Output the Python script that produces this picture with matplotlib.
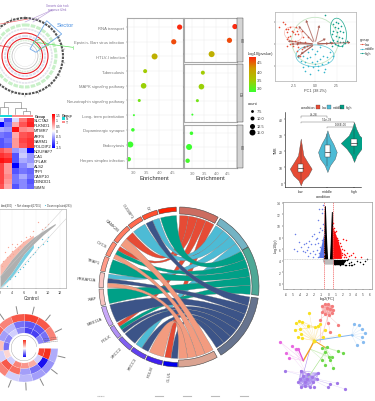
from itertools import combinations

import matplotlib
matplotlib.use("Agg")
import numpy as np
from matplotlib import pyplot as plt
from matplotlib.colors import LinearSegmentedColormap
from matplotlib.patches import Circle, Ellipse, PathPatch, Polygon, Rectangle, Wedge
from matplotlib.path import Path

W, H = 375, 402

# dot plot
pathways = ["RNA transport", "Epstein- Barr virus infection", "HTLV-I infection", "Tuberculosis",
            "MAPK signaling pathway", "Neurotrophin signaling pathway", "Long- term potentiation",
            "Dopaminergic synapse", "Endocytosis", "Herpes simplex infection"]
enrichment = [4.79, 4.56, 3.81, 3.44, 3.38, 3.21, 3.0, 2.96, 2.86, 2.8]
counts = [13, 13, 15, 10, 14, 8, 5, 9, 15, 11]
logp = [4.7, 4.55, 3.9, 3.55, 3.5, 3.3, 3.0, 3.0, 3.0, 3.05]
facet_rows = [[0, 1, 2], [3, 4, 5, 6], [7, 8, 9]]
facet_names = ["HD", "OS", "HD"]

# heatmap
genes_hm = ["SLC7A2", "PLKND1", "MTMR7", "ARFS", "SARM1", "POLDIP2", "NDUFAF7", "ICA1", "CFLAR", "ALS2",
            "TFPI", "CASP10", "DBNDD1", "WIMN"]
hm_values = [[-0.3, -1.0, -0.2, 0.8, 1.2], [-1.5, -0.8, 0.5, 1.0, 1.3], [-0.5, -0.6, 1.4, 0.7, 0.6],
             [-0.8, -0.9, 0.5, 1.0, 1.1], [-1.0, -0.8, 0.6, 1.1, 1.2], [-1.0, -0.9, 0.6, 1.0, 1.2],
             [1.0, 0.8, -0.6, -0.4, -1.5], [1.2, 1.1, -1.0, -0.3, -0.6], [1.4, 1.3, -1.0, -0.5, -0.6],
             [1.1, 0.6, -1.5, -0.7, -0.4], [1.1, 0.6, -1.0, -0.8, -0.9], [1.1, 0.7, -0.8, -0.5, -0.8],
             [1.1, 0.6, -0.8, -0.7, -1.0], [1.0, 0.5, -1.0, -0.7, -0.9]]
hm_ticks = [1.5, 1, 0.5, 0, -0.5, -1, -1.5]

# pca
low_x = [-4.15, -3.65, -3.46, -3.38, -3.27, -3.08, -2.88, -2.69, -3.08, -3.27, -2.88, -2.5, -2.31, -2.12, -1.92, -2.69,
         -2.31, -2.5, -2.12, -1.73, -1.92, -1.54, -2.88, -3.27, -1.15, -1.35, -1.54, -2.12, -1.73, -0.96, -2.23, -0.77]
low_y = [1.92, 2.58, 2.31, 1.73, 1.35, 1.73, 1.92, 1.54, 0.77, 0.58, 0.96, 1.35, 1.15, 1.54, 1.15, 0.38,
         0.38, -0.19, 0, 0.19, -0.38, -0.58, 0, -0.19, 0.19, 0.77, 1.54, -0.77, -1.35, -0.19, 2.0, 0.77]
mid_x = [-1.92, -1.62, -1.35, -1.15, -0.96, -0.77, -0.58, -0.38, -0.19, 0, 0.19, 0.38, 0.58, 0.77, 0.96, 1.15,
         1.35, 1.54, -0.58, 1.08, 0.19, 0.58, -0.38, -1.15, 2.12, 1.73, 0.38, -0.85, -1.35, 0]
mid_y = [-1.54, -1.92, -1.35, -2.12, -1.65, -2.5, -1.54, -2.12, -2.69, -1.15, -1.92, -2.5, -1.73, -2.31, -1.35, -2.88,
         -1.54, -2.12, -3.46, -3.19, -0.77, -0.38, -0.58, -3.08, -1.35, -0.96, -2.96, -0.96, -2.69, -2.31]
high_x = [1.15, 2.12, 2.38, 2.69, 3.0, 2.31, 2.62, 2.12, 2.5, 2.88, 3.27, 1.92, 2.38, 2.77, 3.15, 2.12, 2.5, 2.88,
          3.27, 3.65, 2.31, 2.69, 3.08, 3.46, 1.73, 1.92]
high_y = [3.35, 2.31, 2.5, 2.42, 2.12, 1.92, 1.81, 1.54, 1.35, 1.54, 1.35, 1.15, 0.88, 0.77, 0.65, 0.5, 0.38, 0.27,
          0.19, 0.38, 0, -0.12, -0.19, 0.08, 0.19, -0.19]
load_x = [-1.15, 0.58, -2.12, -3.46, -3.08, -2.5, 1.54, 1.92, 4.42, 2.5, -2.31, -1.92, -1.73]
load_y = [3.08, 2.5, 2.31, 0.38, 0, 0.12, 0.77, 0.08, 0.19, 0.12, -1.73, -1.35, -0.58]

# violins
conditions = ["low", "middle", "high"]
violin_colors = ["#E64B35", "#4DBBD5", "#00A087"]
low_levels = [27.9, 22.6, 17.4, 13.2, 9, 4.8, 1.7, -1.5]
low_width = [0, 0.05, 0.1, 0.25, 0.41, 0.28, 0.08, 0]
mid_levels = [33.1, 28.9, 24.7, 19.5, 15.3, 11.1, 6.9]
mid_width = [0, 0.08, 0.22, 0.35, 0.28, 0.1, 0]
high_levels = [38.3, 34.1, 29.9, 25.1, 21.6, 17.4, 13.2]
high_width = [0, 0.08, 0.2, 0.5, 0.28, 0.1, 0]
box_q1 = [6.9, 16.5, 23.0]
box_med = [9.6, 19.5, 25.1]
box_q3 = [12.1, 23.7, 27.7]
whisk_lo = [2, 11, 18]
whisk_hi = [23.7, 31, 34]
brackets = [(0, 1, "7e-28", 42.0), (0, 2, "5.1e-38", 38.4), (1, 2, "1.66E-06", 35.3)]

# scatter control / treat
band_x = [2, 4, 6, 7.56, 9.2, 11.2]
grey_up = [3.28, 5.83, 7.87, 9.14, 10.16, 11.29]
grey_lo = [1.5, 3.79, 6.59, 8.12, 9.55, 11.08]
salmon_x = [2, 4, 6, 7.56]
salmon_up = [5.0, 7.0, 8.6, 9.5]
cyan_lo = [1.4, 3.1, 5.7, 7.6]
up_x = [4.5, 4.78, 3.94, 3.11, 2.56, 3.67, 5.33, 3.39, 2.83, 4.22, 5.06, 5.89, 2.28, 6.33, 7, 8.39, 8.94, 7.56, 9.5,
        10.06, 4.5, 5.44, 3.94]
up_y = [7.61, 8.12, 7.1, 6.08, 5.57, 6.34, 7.87, 7.61, 6.85, 6.59, 7.36, 8.38, 4.81, 9.14, 9.4, 11.44, 10.42, 10.16,
        10.67, 11.18, 5.83, 8.63, 8.12]
down_x = [3.11, 3.67, 4.5, 5.33, 6.17, 7, 6.72, 7.83, 8.39, 9.22, 9.78, 10.06, 8.94, 7.56, 5.06, 5.89]
down_y = [1.74, 2.77, 3.28, 4.3, 5.06, 6.08, 5.57, 6.85, 7.61, 8.12, 8.63, 9.14, 8.89, 6.59, 3.79, 4.55]

# circular heatmap, 14 sectors
ring_outer = [-0.35, -0.45, -0.4, -0.3, -0.2, 0.6, 0.7, 0.6, 0.7, 0.6, 0.8, 0.9, 0.8, 0.6]
ring_mid = [1.0, -1.0, -0.6, -0.4, 0.7, 0.8, -0.2, 0.3, -0.4, -0.3, -0.6, -0.7, -0.7, -0.6]
ring_inner = [0.9, -0.2, 0.4, 0.5, 0.6, -0.2, 0.2, -0.6, -0.5, -0.2, -0.5, -0.8, -0.8, -0.5]

# chord
chord_genes = ["GLUL", "POLM", "XRCC3", "XRCC2", "POLK", "MRE11A", "XIAP", "PRKAR2A", "TRAF1", "CYCS", "CAMK2B",
               "CUGBP1", "LY", ""]
gene_spans = [10.5, 12, 11.5, 11, 9.5, 15, 12, 11, 11, 11, 14, 11, 11.5, 13]
gene_colors = ["#0000F0", "#4020F0", "#6040F0", "#8060F0", "#B090F4", "#C8A8F8", "#F8C4C0", "#F8C4C0", "#FF9A88",
               "#FF8A70", "#FF7A60", "#FF6A50", "#FF5030", "#FF2000"]
term_colors = ["#E64B35", "#4DBBD5", "#00A087", "#3C5488", "#F39B7F"]
term_rings = ["#CC6D61", "#74B3C4", "#4DA896", "#66738E", "#DBA492"]
gene_links = [[3, 0], [4], [3, 1], [3], [3, 2, 0], [3], [2], [4, 3, 1], [2], [4, 2, 0], [4, 0], [1], [3, 1], [2]]

# volcano
blue_x = [-5.0, -4.8, -4.6, -4.2, -3.9, -3.7, -3.5, -3.4, -3.2, -3.1, -2.9, -2.8, -2.7, -2.5, -2.4, -2.3, -2.1, -2.0,
          -1.9, -1.8, -1.7, -1.6, -1.5, -1.4, -1.3, -1.2, -1.1, -1.0, -0.9, -0.8, -0.7, -1.3, -1.0, -0.9, -0.8, -1.5,
          -1.2, -1.0, -0.8, -0.7, -3.0, -2.2, -1.5]
blue_y = [6.0, 8.7, 5.6, 7.2, 6.4, 5.7, 6.9, 5.5, 7.0, 5.8, 6.3, 7.4, 5.4, 6.8, 8.3, 5.6, 8.6, 6.9, 5.2, 7.7, 8.0,
          5.9, 7.0, 5.3, 8.9, 6.3, 5.5, 7.6, 4.9, 6.4, 5.2, 13.0, 12.2, 12.9, 13.6, 11.0, 9.7, 9.3, 10.4, 8.6, 4.8, 4.7, 4.6]
red_x = [0.7, 0.8, 0.9, 1.0, 1.1, 1.2, 1.3, 1.4, 1.5, 1.6, 1.7, 1.8, 1.9, 2.0, 2.1, 2.2, 2.3, 2.4, 2.5, 2.7, 2.9, 3.2,
         3.5, 3.8, 1.0, 1.2, 1.4, 1.6, 1.8, 2.0, 2.2, 2.5, 4.7]
red_y = [10.5, 9.6, 9.0, 8.4, 9.2, 7.9, 7.2, 7.6, 6.5, 7.1, 5.9, 6.6, 5.4, 6.1, 7.7, 5.2, 5.8, 4.9, 7.6, 5.3, 4.8, 5.0,
         5.3, 4.7, 6.0, 5.2, 5.0, 4.7, 4.6, 5.0, 4.6, 4.7, 4.6]
red_dense_y = [4.3, 10.0, 7.8, 5.5, 4.3]
red_dense_x = [0.6, 0.6, 1.3, 1.9, 1.9]
black_x = [1.0, 1.3, 1.6, 1.9, 2.1, 2.3, 2.5, 2.7, 2.9, 3.0, 3.2, 3.4, 3.6, 4.1, 4.5, 5.0, 5.2, 5.6, 2.0, 2.4, 2.8, 3.3]
black_y = [3.4, 3.7, 3.3, 3.8, 3.4, 3.9, 3.3, 4.1, 3.6, 3.2, 3.8, 3.3, 3.5, 3.9, 3.7, 3.4, 4.0, 4.3, 4.2, 3.2, 4.3, 3.2]
tower_left_y = [3.8, 7, 10, 13.5]
tower_left_lo = [-0.75, -0.72, -0.66, -0.58]
tower_left_hi = [-0.1, -0.25, -0.35, -0.45]
tower_right_y = [3.6, 7, 10, 12.5]
tower_right_lo = [0.1, 0.25, 0.33, 0.42]
tower_right_hi = [0.62, 0.6, 0.58, 0.55]

# network, node positions per module
net_red_x = [140, 150, 160, 170, 175, 172, 162, 150, 142, 155, 165]
net_red_y = [22, 15, 15, 20, 32, 42, 48, 45, 38, 28, 30]
net_red2_x = [135, 158, 190, 165]
net_red2_y = [62, 72, 77, 98]
net_yellow_x = [103, 72, 82, 100, 62, 60, 75, 120, 130, 150, 135, 68, 78, 80, 143, 192]
net_yellow_y = [43, 65, 68, 80, 72, 92, 90, 85, 80, 92, 75, 115, 105, 118, 115, 108]
net_blue_x = [237, 252, 260, 270, 262, 265, 245]
net_blue_y = [75, 77, 90, 102, 115, 128, 137]
net_magenta_x = [15, 52, 62, 32, 42, 70]
net_magenta_y = [128, 140, 150, 163, 177, 150]
net_green_x = [142, 155, 188, 205, 150, 162, 172, 142, 165, 150, 175]
net_green_y = [148, 145, 155, 163, 160, 175, 175, 182, 182, 197, 207]
net_purple_x = [78, 130, 85, 100, 75, 70, 90, 105, 115, 125, 95, 110, 78, 90]
net_purple_y = [215, 222, 230, 225, 240, 250, 260, 265, 250, 240, 240, 235, 265, 250]
net_purple2_x = [30, 185, 165, 158, 118, 210]
net_purple2_y = [215, 252, 255, 265, 265, 270]
net_hub_x = [118, 105, 85, 230, 150]
net_hub_y = [125, 150, 185, 108, 145]

plt.rcParams["font.family"] = ["Liberation Sans", "DejaVu Sans"]
plt.rcParams["axes.linewidth"] = 0.4
plt.rcParams["xtick.major.width"] = 0.3
plt.rcParams["ytick.major.width"] = 0.3
plt.rcParams["xtick.major.size"] = 1
plt.rcParams["ytick.major.size"] = 1
plt.rcParams["xtick.major.pad"] = 0.8
plt.rcParams["ytick.major.pad"] = 0.8

fig = plt.figure(figsize=(W / 100, H / 100), dpi=100)


def panel(x0, y0, x1, y1):
    return fig.add_axes([x0 / W, 1 - y1 / H, (x1 - x0) / W, (y1 - y0) / H])


# overlay in pixel units, y points down
ov = fig.add_axes([0, 0, 1, 1], zorder=5)
ov.set_xlim(0, W)
ov.set_ylim(H, 0)
ov.axis("off")
ov.patch.set_alpha(0)


def polar(cx, cy, r, clock):
    a = np.radians(clock)
    return cx + r * np.sin(a), cy - r * np.cos(a)


# --- dot plot ---
dot_cmap = LinearSegmentedColormap.from_list("gr", ["#3CFF2E", "#A8C800", "#D09A00", "#FF2010"])


def dot_size(c):
    d = np.interp(c, [5, 7.5, 10, 12.5, 15], [2.0, 2.8, 4.0, 5.0, 6.0])
    return (d * 0.72) ** 2


def dot_color(v):
    return dot_cmap((v - 3.0) / 1.75)


def style_dot(ax, xlim):
    ax.set_xlim(*xlim)
    ax.set_xticks([3.0, 3.5, 4.0, 4.5])
    ax.set_xticklabels(["3.0", "3.5", "4.0", "4.5"], fontsize=2.8, color="#555555")
    ax.grid(color="#EBEBEB", lw=0.3)
    ax.set_axisbelow(True)
    for s in ax.spines.values():
        s.set_color("#AAAAAA")
        s.set_linewidth(0.8)
    ax.tick_params(colors="#777777")


ax = panel(127, 19.3, 182.7, 169)
ys = np.arange(len(pathways))
ax.scatter(enrichment, ys, s=[dot_size(c) for c in counts], c=[dot_color(v) for v in logp], lw=0)
ax.set_ylim(9.6, -0.6)
ax.set_yticks(ys)
ax.set_yticklabels(pathways, fontsize=3.0, color="#333333")
style_dot(ax, (2.73, 4.91))
ax.set_xlabel("Enrichment", fontsize=4.2, labelpad=0.5, color="#333333")

facet_boxes = [(19.3, 62.7), (65.3, 123.3), (126, 169.3)]
for rows, box, name in zip(facet_rows, facet_boxes, facet_names):
    fa = panel(184.3, box[0], 237.3, box[1])
    fa.scatter([enrichment[i] for i in rows], range(len(rows)), s=[dot_size(counts[i]) for i in rows],
               c=[dot_color(logp[i]) for i in rows], lw=0)
    fa.set_ylim(len(rows) - 0.45, -0.6)
    fa.set_yticks(range(len(rows)))
    fa.set_yticklabels([])
    style_dot(fa, (2.66, 4.89))
    if box is facet_boxes[-1]:
        fa.set_xlabel("Enrichment", fontsize=4.2, labelpad=0.5, color="#333333")
    else:
        fa.set_xticklabels([])
        fa.tick_params(bottom=False)
    ov.add_patch(Rectangle((237.3, box[0]), 6, box[1] - box[0], fc="#D4D4D4", ec="#333333", lw=0.3))
    ov.text(240.3, sum(box) / 2, name, rotation=-90, ha="center", va="center", fontsize=2.6, color="#333333")

ov.text(248, 54, "-log10(pvalue)", fontsize=2.9, va="center", color="#333333")
cb = panel(248.7, 57.7, 255, 93)
cb.imshow(np.linspace(1, 0, 64)[:, None], aspect="auto", cmap=dot_cmap)
cb.axis("off")
for lab, yy in zip(["4.5", "4.0", "3.5", "3.0"], [63, 72.5, 81, 89]):
    ov.text(257, yy, lab, fontsize=2.8, va="center", color="#333333")
ov.text(248, 104, "count", fontsize=2.9, va="center", color="#333333")
for c, lab, yy in zip([7.5, 10, 12.5, 15], ["7.5", "10.0", "12.5", "15.0"], [111.7, 119, 126.5, 133.3]):
    ov.scatter([252], [yy], s=dot_size(c), c="black", lw=0)
    ov.text(257, yy, lab, fontsize=2.8, va="center", color="#333333")

# --- circos, top left ---
cx, cy = 25, 57
for r, col, lw in [(38, "#555555", 1.5), (13, "#BBBBBB", 0.5), (10.5, "#DDDDDD", 0.3)]:
    ov.add_patch(Circle((cx, cy), r, fc="none", ec=col, lw=lw, ls=(0, (1.2, 0.5)) if r == 38 else "-"))
for r, col, lw in [(31, "#C8F0C8", 2.2), (27, "#E4E4EC", 1.2), (20, "#DDE0F0", 1.5), (15.5, "#DCEFDC", 1.0)]:
    ov.add_patch(Circle((cx, cy), r, fc="none", ec=col, lw=lw, ls=(0, (1.5, 0.4))))
for r in [23, 17.5]:
    ov.add_patch(Circle((cx, cy), r, fc="none", ec="#E8232A", lw=0.8))
for a in range(0, 360, 20):
    x0, y0 = polar(cx, cy, 38.5, a)
    x1, y1 = polar(cx, cy, 40.5, a)
    ov.plot([x0, x1], [y0, y1], color="#777777", lw=0.3)
ov.add_patch(Polygon([(46.7, 21.7), (61.7, 35), (36, 53.3), (30, 50)], fc="none", ec="#6FA8E8", lw=0.6))
ov.text(57, 25.5, "Sector", fontsize=4.2, color="#4A90E2", va="center")
ov.text(57, 8, "Genomic data track\nsequence & link", fontsize=1.9, color="#8E6BBE", ha="center", va="center")
ov.plot([52, 25], [11, 23], color="#B79AD8", lw=0.4)
ov.plot([52, 33], [11, 23], color="#B79AD8", lw=0.4)
ov.plot([36.7, 72.7], [43.5, 48.3], color="#5FE05F", lw=0.5)
ov.plot([72.7, 72.7], [46.5, 50], color="#5FE05F", lw=0.4)
ov.add_patch(Polygon([(33, 43), (40, 40), (49, 46), (40, 50)], fc="none", ec="#6FC96F", lw=0.5))
ov.plot([0, 28], [25, 20], color="#F07070", lw=0.5)
ov.plot([0, 10], [46.7, 48.3], color="#E8232A", lw=0.5)

# --- pca, top right ---
pc = panel(275, 13.3, 356, 81.7)
pc.set_xlim(-4.61, 4.73)
pc.set_ylim(-4.23, 3.66)
pc.grid(color="#EEEEEE", lw=0.3)
pc.set_axisbelow(True)
pc.add_patch(Ellipse((0, 0.38), 5.4, 5.4, fc="none", ec="#C4E4C4", lw=0.6))
pc.add_patch(Ellipse((-2.5, 1.15), 2.1, 1.6, angle=-20, fc="none", ec="#F08070", lw=0.4, ls=(0, (1, 0.6))))
pc.add_patch(Ellipse((0, -1.35), 4.4, 2.5, fc="none", ec="#5CC5D5", lw=0.5))
pc.add_patch(Ellipse((2.7, 1.35), 1.8, 3.3, angle=10, fc="none", ec="#1EA88E", lw=0.5))
for lx, ly in zip(load_x, load_y):
    pc.annotate("", xy=(lx, ly), xytext=(0, 0), arrowprops=dict(arrowstyle="-|>,head_width=0.06,head_length=0.1",
                                                                color="#A65A50", lw=0.7, alpha=0.75))
pc.scatter(low_x, low_y, s=1.4, c="#E8503A", lw=0)
pc.scatter(mid_x, mid_y, s=1.4, c="#35B5CC", lw=0)
pc.scatter(high_x, high_y, s=1.4, c="#12A08C", lw=0)
pc.set_xticks([-2.5, 0, 2.5])
pc.set_xticklabels(["-2.5", "0.0", "2.5"], fontsize=2.4, color="#555555")
pc.set_yticks([-2.5, 0, 2.5])
pc.set_yticklabels([])
for s in pc.spines.values():
    s.set_color("#BBBBBB")
    s.set_linewidth(0.6)
pc.set_xlabel("PC1 (38.2%)", fontsize=2.8, labelpad=0.6, color="#444444")
ov.text(360, 40, "group", fontsize=2.8, va="center", color="#333333")
for lab, yy, col in zip(conditions, [45, 49.5, 54], ["#E8503A", "#35B5CC", "#12A08C"]):
    ov.plot([360, 364], [yy, yy], color=col, lw=0.4)
    ov.scatter([362], [yy], s=0.8, c=col, lw=0)
    ov.text(365, yy, lab, fontsize=2.4, va="center", color="#333333")

# --- violins ---
vi = panel(285, 113, 361, 188)
vi.set_xlim(-0.59, 2.26)
vi.set_ylim(-2.5, 44.6)
for i, (lev, wid) in enumerate([(low_levels, low_width), (mid_levels, mid_width), (high_levels, high_width)]):
    vi.fill_betweenx(lev, i - np.array(wid), i + np.array(wid), fc=violin_colors[i], ec="#444444", lw=0.25)
    vi.plot([i, i], [whisk_lo[i], whisk_hi[i]], color="#333333", lw=0.3)
    vi.add_patch(Rectangle((i - 0.1, box_q1[i]), 0.2, box_q3[i] - box_q1[i], fc="white", ec="#333333", lw=0.3, zorder=3))
    vi.plot([i - 0.1, i + 0.1], [box_med[i]] * 2, color="#333333", lw=0.5, zorder=4)
for a, b, lab, yy in brackets:
    vi.plot([a, a, b, b], [yy - 1, yy, yy, yy - 1], color="#666666", lw=0.3)
    vi.text((a + b) / 2, yy + 0.3, lab, ha="center", va="bottom", fontsize=2.2, color="#333333")
vi.set_xticks([0, 1, 2])
vi.set_xticklabels(conditions, fontsize=2.6, color="#333333")
vi.set_yticks([0, 10, 20, 30, 40])
vi.set_yticklabels(["0", "10", "20", "30", "40"], fontsize=2.4, color="#333333")
vi.spines[["top", "right"]].set_visible(False)
vi.set_ylabel("TMB", fontsize=2.6, labelpad=0.5, color="#333333")
vi.set_xlabel("condition", fontsize=2.8, labelpad=0.2, color="#333333")
ov.text(308, 107.7, "condition", fontsize=2.6, ha="center", va="center", color="#333333")
for sx, tx, lab, col in zip([317.7, 329, 342.3], [321.5, 332.5, 346], conditions, violin_colors):
    ov.add_patch(Rectangle((sx - 2, 105.5), 4, 4.4, fc=col, ec="#444444", lw=0.2))
    ov.text(tx, 107.7, lab, fontsize=2.4, va="center", color="#333333")

# --- heatmap ---
hm_cmap = LinearSegmentedColormap.from_list("bwr2", ["#0000FF", "#FFFFFF", "#FF0000"])
hm = panel(-3.3, 118.7, 33.3, 190)
hm.imshow(hm_values, aspect="auto", cmap=hm_cmap, vmin=-1.5, vmax=1.5, interpolation="nearest")
hm.axis("off")
col_edges = [-3.3, 4, 11.7, 19, 26.3, 33.3]
for i, c in enumerate(["#18D8D8"] * 2 + ["#FA8C8C"] * 3):
    ov.add_patch(Rectangle((col_edges[i], 115.7), col_edges[i + 1] - col_edges[i], 2.5, fc=c, lw=0))
ov.text(34.5, 116.9, "Group", fontsize=2.7, va="center", fontweight="bold", color="#333333")
for i, g in enumerate(genes_hm):
    ov.text(34, 118.7 + 5.1 * (i + 0.5), g, fontsize=3.0, va="center", color="#222222")
cols = [0.35, 7.8, 15.3, 22.6, 29.8]
den = dict(color="#777777", lw=0.4)
ov.plot([cols[3], cols[3], cols[4], cols[4]], [115, 111.5, 111.5, 115], **den)
ov.plot([cols[2], cols[2], 26.2, 26.2], [115, 109, 109, 111.5], **den)
ov.plot([cols[0], cols[0], cols[1], cols[1]], [115, 107.5, 107.5, 115], **den)
ov.plot([4.1, 4.1, 20.7, 20.7], [107.5, 103, 103, 109], **den)
cb = panel(52, 115, 54.5, 149)
cb.imshow(np.linspace(1, 0, 64)[:, None], aspect="auto", cmap=hm_cmap)
cb.axis("off")
for i, t in enumerate(hm_ticks):
    ov.text(55.5, 116 + i * 5.35, f"{t:g}", fontsize=2.4, va="center", color="#333333")
ov.text(62, 115.5, "Group", fontsize=2.5, va="center", fontweight="bold", color="#333333")
for c, lab, yy in [("#18D8D8", "N", 118), ("#FA8C8C", "T", 121.5)]:
    ov.add_patch(Rectangle((61.7, yy), 3.3, 2.6, fc=c, lw=0))
    ov.text(66, yy + 1.3, lab, fontsize=2.3, va="center", color="#333333")

# --- control/treat scatter ---
ma = panel(-2, 210, 66, 289)
ma.set_xlim(2 - 2 / 6, 13)
ma.set_ylim(1.39, 13.5)
ma.grid(color="#EEEEEE", lw=0.3)
ma.set_axisbelow(True)
ma.fill_between(salmon_x, grey_up[:4], salmon_up, color="#F8A898", lw=0, alpha=0.8)
ma.fill_between(salmon_x, cyan_lo, grey_lo[:4], color="#58C4DC", lw=0, alpha=0.8)
ma.scatter(up_x, up_y, s=0.9, c="#F8A898", lw=0)
ma.scatter(down_x, down_y, s=0.9, c="#58C4DC", lw=0)
ma.fill_between(band_x, grey_lo, grey_up, color="#AFAFAF", lw=0)
ma.plot([1, 13], [2, 14], color="#C8C8C8", lw=0.3)
ma.plot([1, 13], [0, 12], color="#C8C8C8", lw=0.3)
ma.set_xticks([2, 4, 6, 8, 10, 12])
ma.set_xticklabels(["2", "4", "6", "8", "10", "12"], fontsize=2.7, color="#444444")
ma.set_yticks([])
for s in ma.spines.values():
    s.set_color("#BBBBBB")
    s.set_linewidth(0.6)
ma.set_xlabel("Control", fontsize=3.4, labelpad=0.6, color="#333333")
ov.text(0.5, 206, "lated(400)", fontsize=1.9, va="center", color="#444444")
ov.scatter([15], [206], s=0.7, c="#AFAFAF", lw=0)
ov.text(17, 206, "Not changed(17015)", fontsize=1.9, va="center", color="#444444")
ov.scatter([45], [206], s=0.7, c="#58C4DC", lw=0)
ov.text(47, 206, "Down regulated(283)", fontsize=1.9, va="center", color="#444444")

# --- circular heatmap ---
ring_cmap = LinearSegmentedColormap.from_list("bwr3", ["#1A10F0", "#FFFFFF", "#F5301E"])
hx, hy = 24, 349
step = 24.6
for vals, (r0, r1) in zip([ring_outer, ring_mid, ring_inner], [(27, 34), (20.5, 27), (15, 20.5)]):
    for k, v in enumerate(vals):
        a0 = 1 + k * step
        ov.add_patch(Wedge((hx, hy), r1, a0, a0 + step, width=r1 - r0, fc=ring_cmap((v + 1) / 2), ec="#FFFFFF", lw=0.1))
for k in range(len(ring_outer)):
    a = 90 + 1 + (k + 0.5) * step
    x0, y0 = polar(hx, hy, 35, a)
    x1, y1 = polar(hx, hy, 42, a)
    ov.plot([x0, x1], [y0, y1], color="#888888", lw=0.7)
ov.add_patch(Wedge((hx, hy), 13, 20, 355, width=0.4, fc="#999999", lw=0))
for yy in [343, 345, 347]:
    ov.plot([43, 58], [yy - 3, yy - 5], color="#555555", lw=0.3, ls=(0, (1, 0.6)))
cb = panel(23.3, 341, 25.8, 358)
cb.imshow(np.linspace(1, 0, 32)[:, None], aspect="auto", cmap=ring_cmap)
cb.axis("off")

# --- chord ---
ch_x, ch_y = 179, 288
r_out, r_in, r_rib = 80, 73, 71.5


def rib_point(c):
    return polar(ch_x, ch_y, r_rib, c)


def arc(c0, c1, n=16):
    return [rib_point(c) for c in np.linspace(c0, c1, n)]


term_starts = [0.5, 31, 60, 98, 151.5]
unit = 7.2
gene_pos = []
a = 181
for span in gene_spans:
    gene_pos.append((a, a + span))
    a += span + 1.0

term_count = [0, 0, 0, 0, 0]
for links in gene_links:
    for t in links:
        term_count[t] += 1
for t, (st, n) in enumerate(zip(term_starts, term_count)):
    en = st + n * unit
    ov.add_patch(Wedge((ch_x, ch_y), r_out, st - 90, en - 90, width=r_out - r_in, fc=term_rings[t], ec="#444444", lw=0.4))
for i, (g0, g1) in enumerate(gene_pos):
    ov.add_patch(Wedge((ch_x, ch_y), r_out, g0 - 90, g1 - 90, width=4.5, fc=gene_colors[i], ec="#444444", lw=0.35))
    mid = (g0 + g1) / 2
    lx, ly = polar(ch_x, ch_y, r_out + 3, mid)
    ov.text(lx, ly, chord_genes[i], fontsize=3.0, color="#444444", rotation=270 - mid, rotation_mode="anchor",
            ha="right", va="center")

# ribbons go on in term order, genes run backwards around each term so they do not cross
used = [0, 0, 0, 0, 0]
ribbons = [[] for _ in term_colors]
for g in range(len(gene_links) - 1, -1, -1):
    links = gene_links[g]
    g0, g1 = gene_pos[g]
    w = (g1 - g0) / len(links)
    for j in range(len(links) - 1, -1, -1):
        t = links[j]
        s0 = term_starts[t] + used[t] * unit
        used[t] += 1
        ribbons[t].append((g0 + j * w, g0 + (j + 1) * w, s0, s0 + unit))
for t in [0, 1, 2, 3, 4]:
    for ga, gb, sa, sb in ribbons[t]:
        a1 = arc(sa, sb)
        a2 = arc(ga, gb)
        verts = a1 + [(ch_x, ch_y), a2[0]] + a2[1:] + [(ch_x, ch_y), a1[0]]
        codes = [Path.MOVETO] + [Path.LINETO] * (len(a1) - 1) + [Path.CURVE3, Path.CURVE3] + \
                [Path.LINETO] * (len(a2) - 1) + [Path.CURVE3, Path.CURVE3]
        ov.add_patch(PathPatch(Path(verts, codes), fc=term_colors[t], ec="#777777", lw=0.2, zorder=2))
for xx in [159, 187, 215, 244]:
    ov.plot([xx - 4, xx + 4], [397, 397], color="#BBBBBB", lw=0.8)
ov.plot([97, 104], [397, 397], color="#BBBBBB", lw=0.8, ls=(0, (1, 0.5)))

# --- volcano ---
vo = panel(283.3, 203.3, 372.3, 290)
vo.set_xlim(-6.5, 6.3)
vo.set_ylim(-0.9, 14.1)
vo.fill_betweenx(tower_left_y, tower_left_lo, tower_left_hi, color="black", lw=0)
vo.fill_betweenx(tower_right_y, tower_right_lo, tower_right_hi, color="black", lw=0)
vo.fill_betweenx([3.4, 3.9, 4.3], [-0.6, -0.8, -0.9], [0.6, 0.8, 0.9], color="#BBBBBB", lw=0)
vo.fill(red_dense_x, red_dense_y, color="#FF1010", lw=0)
vo.fill_betweenx([3.3, 4.2], [0.7, 0.7], [2.0, 2.6], color="black", lw=0)
vo.fill([-1.4, -0.65, -0.65], [4.4, 4.4, 8.5], color="#5A78E8", lw=0)
vo.scatter(blue_x, blue_y, s=1.2, c="#6A80E8", lw=0)
vo.scatter(red_x, red_y, s=1.2, c="#FF1010", lw=0)
vo.scatter(black_x, black_y, s=1.2, c="black", lw=0)
vo.axvline(-0.58, color="#F06060", lw=0.5, ls=(0, (2, 1)))
vo.axvline(0.58, color="#F06060", lw=0.5, ls=(0, (2, 1)))
vo.axhline(4.3, color="#BBBBBB", lw=0.4, ls=(0, (2, 1)))
vo.set_xticks(range(-6, 7))
vo.set_xticklabels([str(v) for v in range(-6, 7)], fontsize=2.3, color="#444444")
vo.set_yticks(range(0, 15, 2))
vo.set_yticklabels([str(v) for v in range(0, 15, 2)], fontsize=2.3, color="#444444")
for s in vo.spines.values():
    s.set_color("#999999")
    s.set_linewidth(0.5)
vo.set_xlabel("log2(FC)", fontsize=2.8, labelpad=0.4, color="#333333")
ov.text(276, 246, "-log10(p)", fontsize=2.6, rotation=90, ha="center", va="center", color="#333333")

# --- network ---
ne = panel(275, 300, 375, 402)
ne.set_xlim(0, 300)
ne.set_ylim(306, 0)
ne.axis("off")
hub = (net_hub_x[0], net_hub_y[0])


def edges(xs, ys, col, target=None, lw=0.3, alpha=0.55):
    for x, y in zip(xs, ys):
        tx, ty = target if target else hub
        ne.plot([x, tx], [y, ty], color=col, lw=lw, alpha=alpha, zorder=1)


for (i, j) in combinations(range(len(net_red_x)), 2):
    ne.plot([net_red_x[i], net_red_x[j]], [net_red_y[i], net_red_y[j]], color="#F8A0A0", lw=0.3, zorder=1)
for (i, j) in combinations(range(len(net_purple_x)), 2):
    ne.plot([net_purple_x[i], net_purple_x[j]], [net_purple_y[i], net_purple_y[j]], color="#A88CF0", lw=0.3, zorder=1)
edges(net_red2_x, net_red2_y, "#F8A0A0", target=(155, 45))
edges([140, 160], [40, 48], "#F8A0A0", target=(135, 130), lw=0.5)
edges(net_yellow_x, net_yellow_y, "#F8D878")
edges(net_yellow_x[1:7], net_yellow_y[1:7], "#F8D878", target=(net_yellow_x[7], net_yellow_y[7]))
edges(net_blue_x, net_blue_y, "#B0D4F4", target=(net_hub_x[3], net_hub_y[3]))
edges(net_magenta_x, net_magenta_y, "#F090E8", target=(net_hub_x[2], net_hub_y[2]))
edges(net_green_x, net_green_y, "#A0E080", target=(net_hub_x[4], net_hub_y[4]))
edges(net_green_x[5:8], net_green_y[5:8], "#A0E080", target=(net_hub_x[1], net_hub_y[1]))
edges(net_purple2_x, net_purple2_y, "#C8B4F4", target=(100, 235))
edges([30, 15, 52], [215, 128, 140], "#E090E8", target=(95, 225), alpha=0.3)
ne.plot(net_hub_x[:3], net_hub_y[:3], color="#F0A020", lw=1.0, zorder=2)
ne.plot([net_hub_x[2], 70], [net_hub_y[2], 150], color="#E050D8", lw=0.9, zorder=2)
ne.plot([net_hub_x[0], net_hub_x[4]], [net_hub_y[0], net_hub_y[4]], color="#F0A020", lw=0.7, zorder=2)
ne.plot([net_hub_x[0], net_hub_x[3]], [net_hub_y[0], net_hub_y[3]], color="#80B4F0", lw=0.7, zorder=2)
ne.plot([85, 105], [225, 150], color="#B090F0", lw=0.4, zorder=1)
ne.plot([150, 100], [160, 235], color="#A0E080", lw=0.4, zorder=1)
for xs, ys, col in [(net_red_x, net_red_y, "#F47C7C"), (net_red2_x, net_red2_y, "#F47C7C"),
                    (net_yellow_x, net_yellow_y, "#F8E020"), (net_blue_x, net_blue_y, "#88BCF0"),
                    (net_magenta_x, net_magenta_y, "#E868E0"), (net_green_x, net_green_y, "#6CD848"),
                    (net_purple_x, net_purple_y, "#A078E8"), (net_purple2_x, net_purple2_y, "#A078E8")]:
    ne.scatter(xs, ys, s=5.5, c=col, lw=0, zorder=3)
ne.scatter([net_hub_x[0]], [net_hub_y[0]], s=8, c="#F8E020", lw=0, zorder=3)
ne.scatter([net_hub_x[3]], [net_hub_y[3]], s=3, c="#88BCF0", lw=0, zorder=3)

fig.savefig("out.png", dpi=100)
